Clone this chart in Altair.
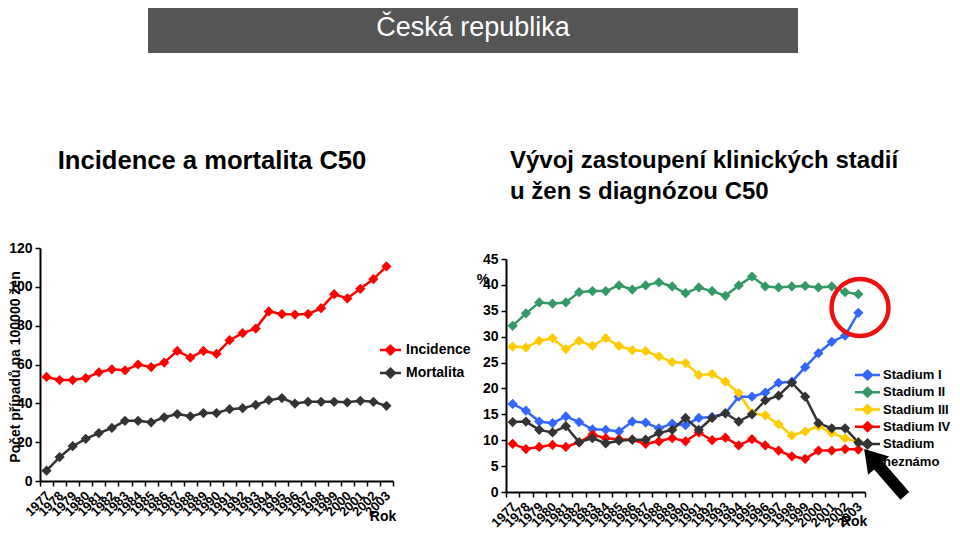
import altair as alt
import pandas as pd

# ---------------- data ----------------
years = [str(y) for y in range(1977, 2004)]

incidence = [53.6, 52.0, 52.0, 53.0, 56.0, 57.5, 57.0, 60.0, 58.7, 61.0, 67.0, 63.5, 67.0, 65.5,
             72.5, 76.2, 78.5, 87.3, 86.0, 85.7, 86.0, 89.0, 96.2, 94.0, 99.0, 104.0, 110.5]
mortalita = [5.3, 12.3, 17.9, 21.7, 24.7, 27.3, 31.0, 31.0, 30.2, 32.8, 34.5, 33.3, 35.0, 35.0,
             37.0, 37.5, 39.2, 41.6, 42.7, 39.9, 40.8, 40.8, 40.8, 40.5, 41.3, 40.8, 38.7]
left_series = ["Incidence", "Mortalita"]
left_colors = ["#FF0000", "#333333"]

stadium_1 = [17.0, 15.7, 13.6, 13.3, 14.6, 13.5, 12.1, 12.0, 11.7, 13.6, 13.4, 12.3, 13.2, 12.9,
             14.3, 14.5, 15.2, 18.4, 18.4, 19.2, 21.1, 21.3, 24.1, 26.8, 29.0, 30.2, 34.6]
stadium_2 = [32.1, 34.5, 36.6, 36.4, 36.6, 38.6, 38.8, 38.8, 39.9, 39.1, 39.9, 40.5, 39.7, 38.4,
             39.5, 38.8, 37.9, 39.9, 41.6, 39.7, 39.5, 39.7, 39.8, 39.5, 39.7, 38.6, 38.2]
stadium_3 = [28.1, 27.9, 29.2, 29.7, 27.6, 29.2, 28.2, 29.7, 28.2, 27.4, 27.2, 26.2, 25.1, 24.9,
             22.6, 22.8, 21.3, 19.1, 15.2, 14.8, 13.1, 10.9, 11.7, 12.7, 11.4, 10.4, 9.6]
stadium_4 = [9.3, 8.3, 8.7, 9.1, 8.7, 9.6, 11.1, 10.4, 10.2, 10.1, 9.3, 9.8, 10.4, 9.8,
             11.5, 10.0, 10.5, 9.0, 10.2, 9.0, 8.0, 6.9, 6.4, 8.0, 8.0, 8.3, 8.2]
stadium_x = [13.5, 13.6, 12.0, 11.5, 12.7, 9.6, 10.4, 9.4, 9.9, 10.1, 10.1, 11.4, 12.0, 14.3,
             12.0, 14.3, 15.2, 13.6, 15.0, 17.7, 18.6, 21.1, 18.4, 13.3, 12.3, 12.3, 9.6]
right_series = ["Stadium I", "Stadium II", "Stadium III", "Stadium IV", "Stadium neznámo"]
right_colors = ["#3366FF", "#339966", "#FFCC00", "#FF0000", "#333333"]

left_ticks = [0, 20, 40, 60, 80, 100, 120]
right_ticks = [0, 5, 10, 15, 20, 25, 30, 35, 40, 45]

# ---------------- layout helpers ----------------
W, H = 944, 522
OX, OY = 8, 8


def X(p):
    return p - OX


def Y(p):
    return p - OY


AX_FONT = "Liberation Sans, Arial, sans-serif"

left_df = pd.DataFrame({
    "Rok": years * 2,
    "Serie": [s for s in left_series for _ in years],
    "Hodnota": incidence + mortalita,
})
right_df = pd.DataFrame({
    "Rok": years * 5,
    "Serie": [s for s in right_series for _ in years],
    "Hodnota": stadium_1 + stadium_2 + stadium_3 + stadium_4 + stadium_x,
})


def x_axis(offset):
    return alt.Axis(orient="bottom", offset=offset, tickBand="extent", labelAngle=-45,
                    labelFont=AX_FONT, labelFontWeight="bold", labelFontSize=13,
                    labelColor="black", labelOverlap=False, labelPadding=3, labelOffset=-3,
                    tickSize=5, tickColor="black", tickWidth=1.5,
                    domainColor="black", domainWidth=2, grid=False, title=None)


def y_axis(offset, values):
    return alt.Axis(orient="left", offset=offset, values=values,
                    labelFont=AX_FONT, labelFontWeight="bold", labelFontSize=14,
                    labelColor="black", labelPadding=3,
                    tickSize=5, tickColor="black", tickWidth=1.5,
                    domainColor="black", domainWidth=2, grid=False, title=None)


def panel(df, series, colors, xrange, yrange, ydomain, xoff, yoff, yvals):
    xs = alt.X("Rok:O", scale=alt.Scale(type="band", domain=years, range=xrange,
                                        paddingInner=0, paddingOuter=0), axis=x_axis(xoff))
    ys = alt.Y("Hodnota:Q", scale=alt.Scale(domain=ydomain, range=yrange, nice=False),
               axis=y_axis(yoff, yvals))
    col = alt.Color("Serie:N", scale=alt.Scale(domain=series, range=colors), legend=None)
    lines = alt.Chart(df).mark_line(strokeWidth=2.5).encode(x=xs, y=ys, color=col)
    pts = alt.Chart(df).mark_point(shape="diamond", filled=True, size=105, opacity=1).encode(
        x=xs, y=ys, color=col)
    return alt.layer(lines, pts)


def legend(series, colors, y_first, y_last, x_line0, x_line1, x_text, label_calc, fsize):
    ldf = pd.DataFrame({"Serie": series})
    ys = alt.Y("Serie:N", scale=alt.Scale(type="point", domain=series,
                                          range=[Y(y_first), Y(y_last)], padding=0), axis=None)
    col = alt.Color("Serie:N", scale=alt.Scale(domain=series, range=colors), legend=None)
    base = alt.Chart(ldf).transform_calculate(lab=label_calc)
    rule = base.mark_rule(strokeWidth=2.5).encode(
        x=alt.value(X(x_line0)), x2=alt.value(X(x_line1)), y=ys, color=col)
    dia = base.mark_point(shape="diamond", filled=True, size=150, opacity=1).encode(
        x=alt.value(X((x_line0 + x_line1) / 2)), y=ys, color=col)
    txt = base.mark_text(align="left", baseline="middle", font=AX_FONT, fontWeight="bold",
                         fontSize=fsize, color="black").encode(
        x=alt.value(X(x_text)), y=ys, text="lab:N")
    return alt.layer(rule, dia, txt)


left = panel(left_df, left_series, left_colors,
             [X(40), X(393)], [Y(481), Y(248)], [0, 120],
             Y(481) - H, -X(40), left_ticks)
right = panel(right_df, right_series, right_colors,
              [X(506), X(865)], [Y(492), Y(259)], [0, 45],
              Y(492) - H, -X(506), right_ticks)

left_leg = legend(left_series, left_colors, 350, 373, 380, 401, 406, "datum.Serie", 14)
right_leg = legend(right_series, right_colors, 375, 444, 855, 880, 883,
                   "datum.Serie == 'Stadium neznámo' ? 'Stadium' : datum.Serie", 13)

one = pd.DataFrame({"v": [0]})


def text(s, x, y, size, weight="bold", color="black", align="center", font=AX_FONT, angle=0):
    return alt.Chart(one).mark_text(text=s, fontSize=size, fontWeight=weight, color=color,
                                    align=align, baseline="middle", font=font, angle=angle).encode(
        x=alt.value(X(x)), y=alt.value(Y(y)))


bar = alt.Chart(one).mark_rect(color="#555555").encode(
    x=alt.value(X(148)), x2=alt.value(X(798)), y=alt.value(0), y2=alt.value(Y(53)))

ARROW = "M0,-1L0.45,-0.29L0.19,-0.29L0.19,1L-0.19,1L-0.19,-0.29L-0.45,-0.29Z"

circle = alt.Chart(one).mark_point(shape="circle", filled=False, color="#EE1111",
                                   strokeWidth=4.5, size=3249, opacity=1).encode(
    x=alt.value(X(860)), y=alt.value(Y(307.5)))
arrow = alt.Chart(one).mark_point(shape=ARROW, filled=True, color="black", size=3844,
                                  angle=319, opacity=1).encode(
    x=alt.value(X(884.5)), y=alt.value(Y(472.5)))

decor = [
    bar,
    text("Česká republika", 473, 28, 27, weight="normal", color="white"),
    text("Incidence a mortalita C50", 212, 161, 25.6),
    text("Vývoj zastoupení klinických stadií", 510, 161, 24, align="left"),
    text("u žen s diagnózou C50", 510, 192, 24, align="left"),
    text("Počet případů na 100000 žen", 16, 367, 14, angle=270),
    text("%", 483, 280, 14),
    text("Rok", 383, 517, 14),
    text("Rok", 854, 522, 14),
    text("neznámo", 883, 462, 13, align="left"),
]

chart = alt.layer(*decor, left, right, left_leg, right_leg, circle, arrow).resolve_scale(
    x="independent", y="independent", color="independent"
).resolve_axis(x="independent", y="independent").properties(
    width=W, height=H, padding=0, background="white",
    autosize=alt.AutoSizeParams(type="none"),
).configure_view(stroke="transparent")

chart.save("out.html", embed_options={"renderer": "svg", "actions": False})
